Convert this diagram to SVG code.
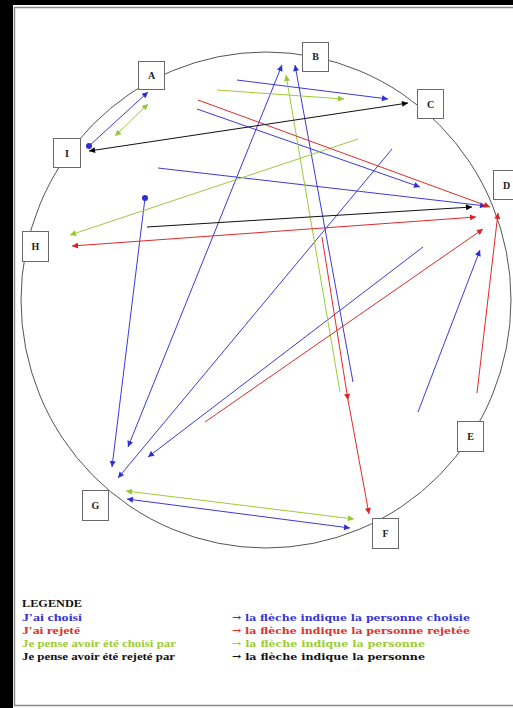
<svg xmlns="http://www.w3.org/2000/svg" width="513" height="708" viewBox="0 0 513 708">
<style>
.ln{fill:none;stroke-width:1}
.b{stroke:#3b3bd6}
.r{stroke:#e02a2a}
.g{stroke:#9ccc34}
.k{stroke:#111}
.box{fill:#fff;stroke:#6a6a6a;stroke-width:1}
.shadow{fill:none;stroke:#c8c8c8;stroke-width:1}
.lbl{font-family:"Liberation Serif","Times New Roman",serif;font-weight:bold;font-size:10px;text-anchor:middle;fill:#222}
.lg{font-family:"Liberation Serif","Times New Roman",serif;font-weight:bold;font-size:11px}
.lr{font-family:"DejaVu Serif","Liberation Serif",serif;font-weight:bold;font-size:10px}
</style>
<defs>
<marker id="ab" viewBox="0 0 10 10" refX="10" refY="5" markerWidth="7" markerHeight="6" markerUnits="userSpaceOnUse" orient="auto-start-reverse"><path d="M0,0L10,5L0,10z" fill="#2f2fd0"/></marker>
<marker id="ar" viewBox="0 0 10 10" refX="10" refY="5" markerWidth="7" markerHeight="6" markerUnits="userSpaceOnUse" orient="auto-start-reverse"><path d="M0,0L10,5L0,10z" fill="#e02020"/></marker>
<marker id="ag" viewBox="0 0 10 10" refX="10" refY="5" markerWidth="7" markerHeight="6" markerUnits="userSpaceOnUse" orient="auto-start-reverse"><path d="M0,0L10,5L0,10z" fill="#96c830"/></marker>
<marker id="ak" viewBox="0 0 10 10" refX="10" refY="5" markerWidth="7" markerHeight="6" markerUnits="userSpaceOnUse" orient="auto-start-reverse"><path d="M0,0L10,5L0,10z" fill="#000"/></marker>
<marker id="db" viewBox="0 0 10 10" refX="5" refY="5" markerWidth="6" markerHeight="6" markerUnits="userSpaceOnUse"><circle cx="5" cy="5" r="5" fill="#2f2fd0"/></marker>
</defs>
<rect x="0" y="0" width="513" height="708" fill="#fff"/>
<rect x="0" y="0" width="513" height="5" fill="#000"/>
<rect x="0" y="0" width="13" height="708" fill="#000"/>
<rect x="14.5" y="7.5" width="520" height="698" fill="none" stroke="#8a8a8a" stroke-width="1.5"/>
<ellipse id="cercle" cx="266" cy="300" rx="245" ry="248" fill="none" stroke="#555" stroke-width="1"/>
<g id="connectors">
<line class="ln b" x1="89" y1="146" x2="148" y2="92" marker-start="url(#db)" marker-end="url(#ab)"/>
<line class="ln b" x1="237" y1="80" x2="388" y2="99" marker-end="url(#ab)"/>
<line class="ln b" x1="197" y1="109" x2="420" y2="187" marker-end="url(#ab)"/>
<line class="ln b" x1="158" y1="168" x2="486" y2="206" marker-end="url(#ab)"/>
<line class="ln b" x1="145" y1="198" x2="112" y2="467" marker-start="url(#db)" marker-end="url(#ab)"/>
<line class="ln b" x1="282" y1="65" x2="128" y2="447" marker-start="url(#ab)" marker-end="url(#ab)"/>
<line class="ln b" x1="392" y1="149" x2="118" y2="478" marker-end="url(#ab)"/>
<line class="ln b" x1="423" y1="247" x2="148" y2="457" marker-end="url(#ab)"/>
<line class="ln b" x1="418" y1="412" x2="480" y2="250" marker-end="url(#ab)"/>
<line class="ln b" x1="353" y1="382" x2="295" y2="65" marker-end="url(#ab)"/>
<line class="ln b" x1="127" y1="499" x2="350" y2="528" marker-start="url(#ab)" marker-end="url(#ab)"/>
<line class="ln g" x1="115" y1="136" x2="148" y2="104" marker-start="url(#ag)" marker-end="url(#ag)"/>
<line class="ln g" x1="217" y1="90" x2="344" y2="99" marker-end="url(#ag)"/>
<line class="ln g" x1="358" y1="139" x2="70" y2="235" marker-end="url(#ag)"/>
<line class="ln g" x1="340" y1="392" x2="286" y2="75" marker-end="url(#ag)"/>
<line class="ln g" x1="126" y1="491" x2="354" y2="519" marker-start="url(#ag)" marker-end="url(#ag)"/>
<line class="ln r" x1="198" y1="100" x2="490" y2="207" marker-end="url(#ar)"/>
<line class="ln r" x1="72" y1="246" x2="476" y2="217" marker-start="url(#ar)" marker-end="url(#ar)"/>
<line class="ln r" x1="205" y1="422" x2="483" y2="229" marker-end="url(#ar)"/>
<line class="ln r" x1="477" y1="393" x2="498" y2="213" marker-end="url(#ar)"/>
<line class="ln r" x1="322" y1="237" x2="348" y2="400" marker-end="url(#ar)"/>
<line class="ln r" x1="348" y1="400" x2="369" y2="514" marker-end="url(#ar)"/>
<line class="ln k" x1="89" y1="151" x2="408" y2="103" marker-start="url(#ak)" marker-end="url(#ak)"/>
<line class="ln k" x1="147" y1="227" x2="472" y2="207" marker-end="url(#ak)"/>
</g>
<g id="A"><rect class="box" x="138.5" y="61.5" width="26" height="28"/><text class="lbl" x="151.5" y="79">A</text></g>
<g id="B"><rect class="box" x="302.5" y="42.5" width="26" height="29"/><text class="lbl" x="315.5" y="60">B</text></g>
<g id="C"><rect class="box" x="417.5" y="89.5" width="26" height="29"/><text class="lbl" x="430.5" y="107.5">C</text></g>
<g id="D"><rect class="box" x="493.5" y="170.5" width="26" height="29"/><text class="lbl" x="506.5" y="188.5">D</text></g>
<g id="E"><rect class="box" x="457.5" y="421.5" width="26" height="30"/><text class="lbl" x="470.5" y="440">E</text></g>
<g id="F"><rect class="box" x="372.5" y="518.5" width="26" height="30"/><text class="lbl" x="385.5" y="537">F</text></g>
<g id="G"><rect class="box" x="82.5" y="490.5" width="26" height="30"/><text class="lbl" x="95.5" y="509">G</text></g>
<g id="H"><rect class="box" x="22.5" y="231.5" width="26" height="30"/><text class="lbl" x="35.5" y="250">H</text></g>
<g id="I"><rect class="box" x="53.5" y="138.5" width="27" height="29"/><text class="lbl" x="67" y="157">I</text></g>
<g id="legende">
<text class="lg" x="22" y="607" fill="#111" textLength="60" lengthAdjust="spacingAndGlyphs">LEGENDE</text>
<text class="lg" x="22" y="621" fill="#3535d4" textLength="60" lengthAdjust="spacingAndGlyphs">J'ai choisi</text>
<text class="lg" x="22" y="634" fill="#e0302a" textLength="58" lengthAdjust="spacingAndGlyphs">J'ai rejeté</text>
<text class="lg" x="22" y="647" fill="#9ccc34" textLength="154" lengthAdjust="spacingAndGlyphs">Je pense avoir été choisi par</text>
<text class="lg" x="22" y="660" fill="#111" textLength="153" lengthAdjust="spacingAndGlyphs">Je pense avoir été rejeté par</text>
<text class="lr" x="232" y="621" fill="#3535d4" textLength="238" lengthAdjust="spacingAndGlyphs">→ la flèche indique la personne choisie</text>
<text class="lr" x="232" y="634" fill="#e0302a" textLength="238" lengthAdjust="spacingAndGlyphs">→ la flèche indique la personne rejetée</text>
<text class="lr" x="232" y="647" fill="#9ccc34" textLength="193" lengthAdjust="spacingAndGlyphs">→ la flèche indique la personne</text>
<text class="lr" x="232" y="660" fill="#111" textLength="193" lengthAdjust="spacingAndGlyphs">→ la flèche indique la personne</text>
</g>
</svg>
